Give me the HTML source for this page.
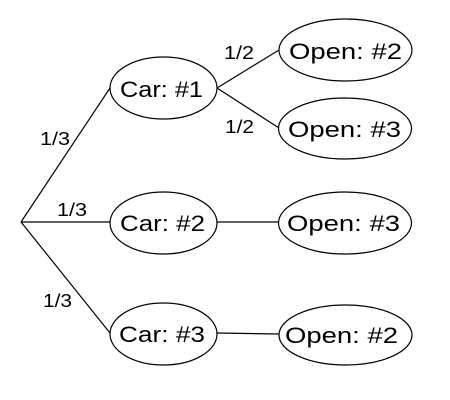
<!DOCTYPE html>
<html><head><meta charset="utf-8"><style>html,body{margin:0;padding:0;background:#fff}svg{display:block}</style></head>
<body>
<svg width="450" height="400" viewBox="0 0 450 400" xmlns="http://www.w3.org/2000/svg" font-family="Liberation Sans, sans-serif" fill="#000">
<g stroke="#000" stroke-width="1.2" fill="none">
<line x1="21" y1="222" x2="110" y2="88"/>
<line x1="21" y1="222" x2="110" y2="222"/>
<line x1="21" y1="222" x2="110" y2="333"/>
<line x1="217" y1="88" x2="279" y2="50"/>
<line x1="217" y1="88" x2="279" y2="128"/>
<line x1="217" y1="222" x2="279" y2="222"/>
<line x1="217" y1="333" x2="279" y2="334"/>
<ellipse cx="163.5" cy="88" rx="53.5" ry="31"/>
<ellipse cx="163.5" cy="223" rx="53.5" ry="31"/>
<ellipse cx="163.5" cy="334" rx="53.5" ry="31"/>
<ellipse cx="345.5" cy="50" rx="66.5" ry="31"/>
<ellipse cx="345" cy="128.5" rx="66.5" ry="30.5"/>
<ellipse cx="345" cy="223" rx="66.5" ry="31"/>
<ellipse cx="345.5" cy="335" rx="66.5" ry="30"/>
</g>
<g font-size="22.5">
<text x="120" y="97" textLength="83" lengthAdjust="spacingAndGlyphs">Car: #1</text>
<text x="120" y="231" textLength="85" lengthAdjust="spacingAndGlyphs">Car: #2</text>
<text x="119" y="342" textLength="86" lengthAdjust="spacingAndGlyphs">Car: #3</text>
<text x="289" y="59" textLength="113" lengthAdjust="spacingAndGlyphs">Open: #2</text>
<text x="288" y="137" textLength="113" lengthAdjust="spacingAndGlyphs">Open: #3</text>
<text x="287" y="231" textLength="113" lengthAdjust="spacingAndGlyphs">Open: #3</text>
<text x="285" y="343" textLength="113" lengthAdjust="spacingAndGlyphs">Open: #2</text>
</g>
<g font-size="18.5">
<text x="224" y="59" textLength="30" lengthAdjust="spacingAndGlyphs">1/2</text>
<text x="225" y="133" textLength="29" lengthAdjust="spacingAndGlyphs">1/2</text>
<text x="40" y="145" textLength="30" lengthAdjust="spacingAndGlyphs">1/3</text>
<text x="57" y="216" textLength="30" lengthAdjust="spacingAndGlyphs">1/3</text>
<text x="43" y="307" textLength="29" lengthAdjust="spacingAndGlyphs">1/3</text>
</g>
</svg>
</body></html>
